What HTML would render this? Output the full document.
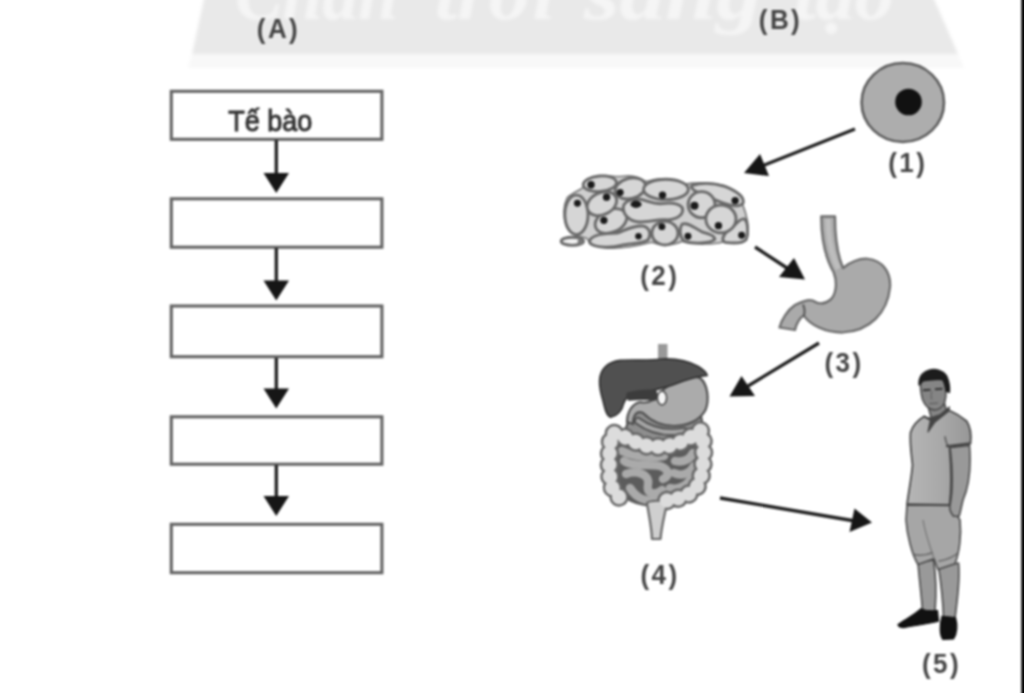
<!DOCTYPE html>
<html lang="vi">
<head>
<meta charset="utf-8">
<title>Tế bào</title>
<style>
html,body{margin:0;padding:0;background:#fff;}
body{width:1024px;height:693px;overflow:hidden;position:relative;}
svg{display:block;position:absolute;left:0;top:0;}
text{font-family:"Liberation Sans","DejaVu Sans",sans-serif;}
.lbl{font-size:28px;font-weight:bold;fill:#444;letter-spacing:2.6px;text-anchor:middle;}
.wm{font-family:"Liberation Serif","DejaVu Serif",serif;font-weight:bold;font-style:italic;font-size:76px;fill:#f5f5f5;}
.box{fill:#fff;stroke:#636363;stroke-width:3.1;}
.ln{stroke:#1e1e1e;stroke-width:3.3;fill:none;}
.ah{fill:#161616;}
</style>
</head>
<body>
<svg width="1024" height="693" viewBox="0 0 1024 693">
<defs>
<filter id="bl" color-interpolation-filters="sRGB" filterUnits="userSpaceOnUse" x="-40" y="-40" width="1104" height="773"><feGaussianBlur stdDeviation="1.25"/></filter>
<filter id="bl2" color-interpolation-filters="sRGB" filterUnits="userSpaceOnUse" x="-40" y="-40" width="1104" height="773"><feGaussianBlur stdDeviation="1.6"/></filter>
<linearGradient id="shirt" x1="0" y1="0" x2="1" y2="0"><stop offset="0" stop-color="#b6b6b6"/><stop offset="0.55" stop-color="#a8a8a8"/><stop offset="1" stop-color="#979797"/></linearGradient>
</defs>
<g filter="url(#bl)">
<rect x="-40" y="-40" width="1104" height="773" fill="#fff"/>

<!-- watermark banner -->
<g id="banner" filter="url(#bl2)">
<polygon points="188,68 964,68 958,54 192,54" fill="#f8f8f8"/>
<polygon points="206,-10 930,-10 958,54 192,54" fill="#e9e9e9"/>
<text class="wm" y="18.5"><tspan x="235" textLength="163" lengthAdjust="spacingAndGlyphs">Chân</tspan> <tspan x="435" textLength="120" lengthAdjust="spacingAndGlyphs">trời</tspan> <tspan x="584" textLength="178" lengthAdjust="spacingAndGlyphs">sáng</tspan> <tspan x="794" textLength="100" lengthAdjust="spacingAndGlyphs">tạo</tspan></text>
</g>

<!-- right black strip -->
<rect x="1021.3" y="-40" width="40" height="773" fill="#000"/>

<!-- (A) flow chart -->
<g id="flow">
<rect class="box" x="171.3" y="91.3" width="210.6" height="48"/>
<rect class="box" x="171.3" y="198.8" width="210.6" height="48.4"/>
<rect class="box" x="171.3" y="306" width="210.6" height="50.7"/>
<rect class="box" x="171.3" y="416.8" width="210.6" height="47.4"/>
<rect class="box" x="171.3" y="524.3" width="210.6" height="48.4"/>
<path class="ln" d="M276.3 140V176 M276.3 248V283 M276.3 358V391 M276.3 465V498"/>
<path class="ah" d="M263.500 173h25.500l-12.750 20z M263.500 280.500h25.500l-12.750 20z M263.500 388.500h25.500l-12.750 20z M263.500 496h25.500l-12.750 20z"/>
<text x="270.3" y="130.8" style="font-size:29.5px;fill:#333;stroke:#333;stroke-width:1;text-anchor:middle" textLength="84" lengthAdjust="spacingAndGlyphs">Tế bào</text>
<text class="lbl" transform="translate(278.5,37.9) scale(0.93,1)">(A)</text>
</g>

<text class="lbl" transform="translate(780.5,29.1) scale(0.93,1)">(B)</text>

<!-- (1) cell -->
<g id="cell">
<ellipse cx="902.8" cy="102.5" rx="41.2" ry="39.5" fill="#adadad" stroke="#5c5c5c" stroke-width="2.6"/>
<circle cx="908.5" cy="102" r="13.3" fill="#111"/>
<text class="lbl" transform="translate(907.8,171.6) scale(0.93,1)">(1)</text>
</g>

<!-- arrows of (B) -->
<g id="arrowsB">
<path class="ln" d="M855 129L762 166 M755 247L790 270 M819 343L748 386 M720 498L855 521"/>
<path class="ah" d="M744 173L760 154L769 176z M805 279.500L794 258L779 277z M729.500 396.500L741.500 376L755 396z M872 522.500L854.500 508.500L849.500 532z"/>
</g>

<text class="lbl" transform="translate(659.8,284.6) scale(0.93,1)">(2)</text>
<text class="lbl" transform="translate(844.0,371.6) scale(0.93,1)">(3)</text>
<text class="lbl" transform="translate(660.0,583.6) scale(0.93,1)">(4)</text>
<text class="lbl" transform="translate(941.5,673.1) scale(0.93,1)">(5)</text>

<g id="tissue" transform="translate(552,165) scale(0.2035)" fill="#d6d6d6" stroke="#686868" stroke-width="14">
<path d="M75 160C110 130 150 120 165 100C170 60 230 45 300 55C340 60 360 50 400 55C440 60 450 85 470 80C520 60 600 65 650 95C700 85 780 85 840 100C900 130 940 150 935 190C960 250 970 300 960 350C950 380 900 385 840 378C800 390 700 395 640 375C600 395 540 400 490 380C430 395 330 420 250 405C200 400 180 380 170 360C130 350 90 340 70 300C55 250 55 200 75 160Z" fill="#cfcfcf" stroke="#777" stroke-width="8"/>
<ellipse cx="100" cy="375" rx="55" ry="20" fill="#f0f0f0"/>
<ellipse cx="120" cy="245" rx="57" ry="97"/>
<ellipse cx="235" cy="92" rx="82" ry="38" transform="rotate(-5 235 92)"/>
<ellipse cx="385" cy="115" rx="76" ry="50" transform="rotate(-15 385 115)"/>
<path d="M690 100C740 85 800 90 850 105C900 125 945 150 940 185C930 205 890 205 850 190C800 170 740 150 700 125C685 115 680 105 690 100Z"/>
<ellipse cx="560" cy="120" rx="110" ry="50"/>
<ellipse cx="290" cy="275" rx="82" ry="55" transform="rotate(-25 290 275)"/>
<ellipse cx="245" cy="190" rx="76" ry="54" transform="rotate(-25 245 190)"/>
<path d="M850 380C830 370 840 340 870 320C900 300 920 260 945 265C965 280 965 340 955 365C940 385 890 385 850 380Z"/>
<ellipse cx="735" cy="195" rx="66" ry="64"/>
<ellipse cx="830" cy="265" rx="74" ry="68"/>
<path d="M640 290C670 280 700 310 740 330C780 340 800 350 800 365C780 385 700 390 650 375C625 350 625 310 640 290Z"/>
<ellipse cx="555" cy="335" rx="64" ry="58"/>
<path d="M185 370C200 345 260 335 320 335C360 320 400 295 450 300C480 310 490 340 470 370C430 390 380 385 340 395C290 410 220 405 195 390C185 385 182 378 185 370Z"/>
<path d="M350 210C350 180 390 165 430 168C470 175 500 195 540 190C580 185 620 185 640 210C650 240 620 265 570 270C520 265 480 280 430 280C390 280 350 250 350 210Z"/>
<g fill="#1a1a1a" stroke="none">
<circle cx="192" cy="97" r="18"/><circle cx="125" cy="188" r="17"/><circle cx="268" cy="158" r="18"/>
<circle cx="335" cy="135" r="17"/><circle cx="543" cy="148" r="18"/><ellipse cx="413" cy="193" rx="27" ry="18"/>
<circle cx="255" cy="272" r="18"/><circle cx="425" cy="350" r="16"/><circle cx="140" cy="378" r="14" fill="#777"/>
<circle cx="540" cy="303" r="17"/><circle cx="668" cy="350" r="17"/><circle cx="700" cy="200" r="20"/>
<circle cx="818" cy="298" r="18"/><circle cx="900" cy="175" r="18"/><circle cx="932" cy="345" r="17"/>
</g>
</g>
<g id="stomach" transform="translate(700,200) scale(0.25)">
<path d="M485 65C485 150 500 230 535 290C550 330 545 380 520 400C495 420 470 415 450 402C430 395 400 410 380 420C350 440 325 480 318 510L380 520C385 495 400 470 415 462C440 500 500 530 570 530C680 525 750 450 760 350C765 290 730 240 670 235C630 233 600 250 572 272C550 220 540 150 540 65Z" fill="#aaa" stroke="#6a6a6a" stroke-width="9" stroke-linejoin="round"/>
<path d="M412 418C420 435 420 450 415 465" fill="none" stroke="#555" stroke-width="8"/>
<path d="M512 75C513 150 525 220 553 275" fill="none" stroke="#bdbdbd" stroke-width="22"/>
</g>
<g id="digest">
<!-- esophagus stub -->
<rect x="658" y="344" width="9.5" height="16" fill="#999"/>
<!-- filler between stomach and colon -->
<path d="M626 428C630 412 640 404 652 404L700 410L704 432C690 444 670 448 652 446C640 444 632 438 626 428Z" fill="#8e8e8e" stroke="#4a4a4a" stroke-width="2"/>
<!-- stomach -->
<path d="M661 392C668 384 690 374 700 378C708 384 709.500 400 705.500 410C700 420 688 426 674 426C660 426 650 420 643 413C637 410 633 415 633 424L627 422C627 412 632 404 640 402C648 404 655 400 661 392Z" fill="#ababab" stroke="#505050" stroke-width="2.2"/>
<!-- duodenum -->
<path d="M638 421C650 430 666 434 684 431" fill="none" stroke="#4c4c4c" stroke-width="8" stroke-linecap="round"/>
<path d="M638 421C650 430 666 434 684 431" fill="none" stroke="#a4a4a4" stroke-width="4.500" stroke-linecap="round"/>
<!-- white gap -->
<ellipse cx="662" cy="398" rx="4.6" ry="7" fill="#f4f4f4" stroke="#444" stroke-width="1.5"/>
<!-- liver -->
<g transform="translate(590,335) scale(0.1371)">
<path d="M70 330C75 250 130 195 220 185C320 178 420 190 520 175C620 170 720 190 790 230C830 255 850 280 855 295C800 300 740 315 680 335C620 360 560 380 500 395C440 410 380 420 330 430C280 440 255 460 245 500C235 550 200 590 150 600C120 590 110 540 95 480C80 430 68 380 70 330Z" fill="#505050" stroke="#2e2e2e" stroke-width="12" stroke-linejoin="round"/>
<path d="M270 420C340 400 420 395 480 400C500 430 495 460 480 480C420 470 340 475 280 480C260 460 260 440 270 420Z" fill="#3c3c3c"/>
</g>
<!-- small intestine -->
<path d="M612 438C640 452 680 452 702 436L702 488C690 500 676 507 656 507C636 507 622 499 612 488Z" fill="#5c5c5c"/>
<g fill="none" stroke="#aaa" stroke-width="8.4" stroke-linecap="round" stroke-linejoin="round">
<path d="M622 451C634 457 648 458 664 456"/>
<path d="M624 461C632 467 650 464 660 466C669 469 670 476 663 479"/>
<path d="M626 474C636 470 650 474 648 484C646 494 654 496 662 490"/>
<path d="M630 488C636 498 646 502 656 500"/>
<path d="M675 461C684 463 690 459 693 453"/>
<path d="M674 473C682 477 690 473 694 466"/>
<path d="M670 488C678 490 686 486 691 479"/>
<path d="M664 499C672 501 680 498 686 493"/>
</g>
<!-- large intestine -->
<g fill="none" stroke-linecap="round" stroke-linejoin="round">
<path d="M619 497C612 492 610 482 609.5 470C609 456 609.500 444 612 433C622 435 632 441 642 444.500C652 447.500 664 447.500 674 444.500C684 441.500 693 436 701 430.500C704 440 704 452 703 464C702 476 699 486 693 491.500C685 497 674 500 662 501" stroke="#666" stroke-width="19.500" stroke-dasharray="0.01 11.5"/>
<path d="M647 503C650 500 664 500 667 503C665 514 661.500 526 660.500 539L652 539C651.500 526 648.500 514 647 503Z" fill="#cfcfcf" stroke="#666" stroke-width="2.2"/>
<path d="M619 497C612 492 610 482 609.5 470C609 456 609.500 444 612 433C622 435 632 441 642 444.500C652 447.500 664 447.500 674 444.500C684 441.500 693 436 701 430.500C704 440 704 452 703 464C702 476 699 486 693 491.500C685 497 674 500 662 501" stroke="#dcdcdc" stroke-width="14.500" stroke-dasharray="0.01 11.5"/>
</g>
</g>
<g id="man" transform="translate(768,360) scale(0.25)" stroke-linejoin="round">
<!-- legs -->
<path d="M600 810L662 800C672 860 674 930 668 1005L618 1005C614 940 604 870 600 810Z" fill="#999" stroke="#4a4a4a" stroke-width="6.5"/>
<path d="M682 830L762 812C770 880 756 960 748 1035L702 1035C700 950 690 880 682 830Z" fill="#999" stroke="#4a4a4a" stroke-width="6.5"/>
<!-- shoes -->
<path d="M520 1058C545 1040 585 1020 612 995C635 1005 660 1005 678 1002L682 1045C640 1055 590 1062 545 1070C528 1070 520 1066 520 1058Z" fill="#111" stroke="#111" stroke-width="5"/>
<path d="M696 1025L750 1030C758 1060 756 1095 742 1116L700 1118C686 1100 686 1060 696 1025Z" fill="#111" stroke="#111" stroke-width="5"/>
<!-- shorts -->
<path d="M556 580L728 582L768 640C774 700 766 770 748 815L680 838C672 820 668 805 664 795L600 818C576 780 556 700 552 640Z" fill="#a6a6a6" stroke="#4a4a4a" stroke-width="6.5"/>
<path d="M578 775C600 785 630 782 660 770 M682 805C710 800 740 790 762 770" fill="none" stroke="#666" stroke-width="6"/>
<path d="M620 640C630 700 650 750 664 795" fill="none" stroke="#777" stroke-width="5"/>
<!-- far arm -->
<path d="M728 350L806 342C812 420 806 500 780 560C772 590 770 610 764 625L742 625C730 610 724 595 728 580C740 520 738 430 728 350Z" fill="#999" stroke="#4a4a4a" stroke-width="6.5"/>
<!-- neck -->
<path d="M640 185L705 170L718 215L655 240Z" fill="#858585" stroke="#444" stroke-width="6"/>
<!-- shirt -->
<path d="M625 225C600 240 580 258 570 290C566 330 574 380 578 420C574 470 562 530 556 578L726 580C734 520 734 440 726 350L810 335C814 300 808 265 795 245C775 228 750 212 722 200C705 215 680 232 650 240Z" fill="url(#shirt)" stroke="#444" stroke-width="7"/>
<path d="M726 350C716 340 710 325 708 305" fill="none" stroke="#555" stroke-width="6"/>
<path d="M712 345L810 333" fill="none" stroke="#444" stroke-width="9"/>
<path d="M556 576L726 579" fill="none" stroke="#4a4a4a" stroke-width="6.5"/>
<!-- collar -->
<path d="M622 226L650 240L640 288L668 248L722 205L726 188L690 218L648 232Z" fill="#444" stroke="#444" stroke-width="5"/>
<!-- face -->
<path d="M610 85C640 78 680 76 702 80C714 110 716 140 706 172C696 190 680 200 664 200C644 198 626 180 618 158C612 135 608 110 610 85Z" fill="#858585" stroke="#444" stroke-width="6"/>
<path d="M620 121L650 119 M668 117L698 115" fill="none" stroke="#333" stroke-width="9"/>
<path d="M655 125C652 140 650 150 656 158" fill="none" stroke="#666" stroke-width="5"/>
<path d="M645 175L680 172" fill="none" stroke="#555" stroke-width="5"/>
<!-- hair -->
<path d="M604 100C602 70 618 48 645 40C672 34 700 42 714 62C724 84 728 110 726 130L712 125C710 105 706 88 698 78C672 76 640 80 618 84C612 92 610 100 604 100Z" fill="#1c1c1c" stroke="#1c1c1c" stroke-width="5"/>
</g>
</g>
</svg>
</body>
</html>
